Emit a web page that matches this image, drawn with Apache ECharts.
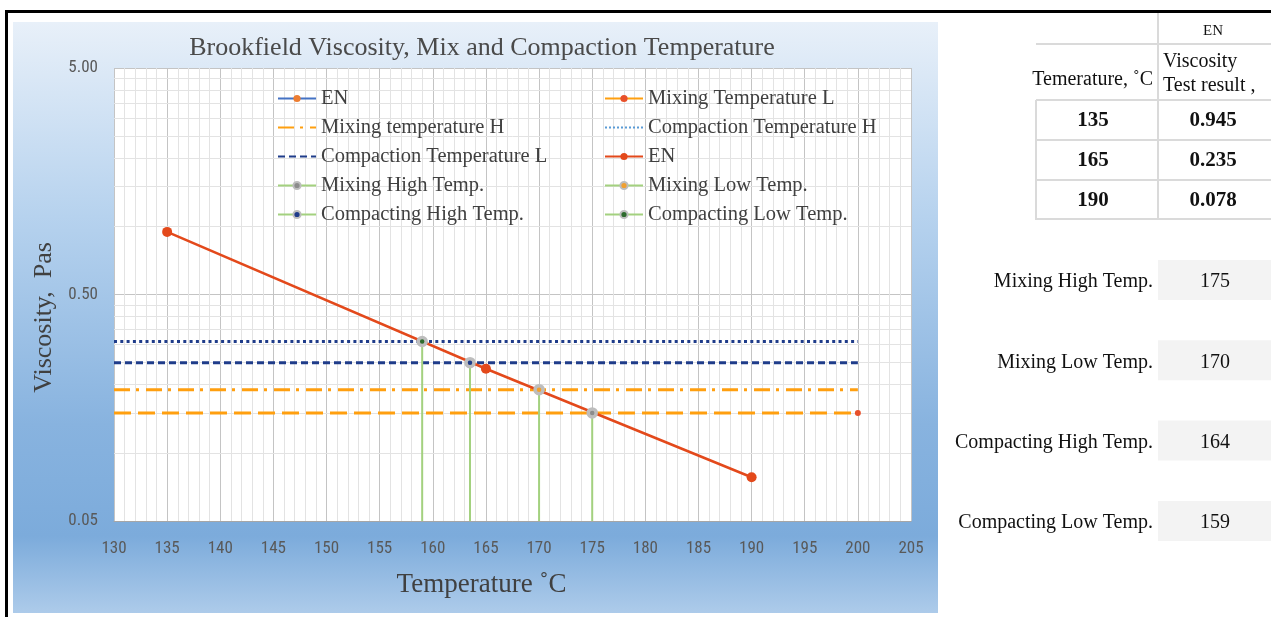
<!DOCTYPE html>
<html>
<head>
<meta charset="utf-8">
<script src="https://cdn.jsdelivr.net/npm/echarts@6/dist/echarts.min.js"></script>
<style>
html,body{margin:0;padding:0;background:#fff;}
#chart{width:1271px;height:617px;}
</style>
</head>
<body>
<div id="chart"></div>
<script>
// ---------------- data ----------------
const chartTitle = 'Brookfield Viscosity, Mix and Compaction Temperature';
const xAxisTitle = 'Temperature ˚C';
const yAxisTitle = 'Viscosity,  Pas';

const enTemps = [135, 165, 190];
const enVisc = [0.945, 0.235, 0.078];
const enViscText = ['0.945', '0.235', '0.078'];

const limitNames = ['Mixing Temperature L', 'Mixing temperature H', 'Compaction Temperature H', 'Compaction Temperature L'];
const limitVisc = [0.15, 0.19, 0.31, 0.25];
const limitTempRange = [130, 200];

const targetNames = ['Mixing High Temp.', 'Mixing Low Temp.', 'Compacting High Temp.', 'Compacting Low Temp.'];
const targetTemps = [175, 170, 163.5, 159];
const targetVisc = [0.15, 0.19, 0.25, 0.31];
const targetTableValues = ['175', '170', '164', '159'];

const xMin = 130, xMax = 205, xStep = 5;
const yMin = 0.05, yMax = 5;
const yMinorGrid = [0.1, 0.15, 0.2, 0.25, 0.3, 0.35, 0.4, 0.45, 1, 1.5, 2, 2.5, 3, 3.5, 4, 4.5];

const tableHeader = ['EN', 'Temerature, ˚C', 'Viscosity', 'Test result ,'];

// ---------------- styles ----------------
const serif = '"Liberation Serif", "Times New Roman", serif';
const narrow = '"Liberation Sans Narrow", "Roboto Condensed", "Liberation Sans", sans-serif';
const limitStyles = [
  {color: '#ff9f0f', type: [17, 7], width: 3, marker: '#e8502a'},
  {color: '#ff9f0f', type: [16, 6, 3, 7], width: 3},
  {color: '#1f3c8a', type: [3, 3.3], width: 3, legendColor: '#5b9bd5', legendType: [2, 2]},
  {color: '#1f3c8a', type: [7, 4], width: 3}
];
const targetDots = ['#8c8c8c', '#f0a030', '#1f3c8a', '#2e6b2e'];
const green = '#a3d17f';
const red = '#e3491b';

const series = [];
series.push({
  name: 'EN', type: 'line', data: [], symbol: 'circle', symbolSize: 6,
  lineStyle: {color: '#4472c4', width: 2.5}, itemStyle: {color: '#ed7d31'}
});
limitNames.forEach((n, i) => {
  const s = limitStyles[i];
  series.push({
    name: n, type: 'line',
    symbol: s.marker ? 'circle' : 'none', symbolSize: 6,
    itemStyle: {color: s.marker || s.color},
    lineStyle: {color: s.color, type: s.type, width: s.width},
    data: limitTempRange.map((t, k) => ({value: [t, limitVisc[i]], symbol: (s.marker && k === limitTempRange.length - 1) ? 'circle' : 'none'})),
    z: 3
  });
});
series.push({
  name: 'EN ', type: 'line', symbol: 'circle', symbolSize: 10,
  lineStyle: {color: red, width: 2.5}, itemStyle: {color: red},
  data: enTemps.map((t, i) => [t, enVisc[i]]), z: 4
});
targetNames.forEach((n, i) => {
  series.push({
    name: n, type: 'line', symbol: 'circle', symbolSize: 8,
    lineStyle: {color: green, width: 2},
    itemStyle: {color: targetDots[i], borderColor: '#bdbdbd', borderWidth: 3.5},
    data: [{value: [targetTemps[i], yMin], symbol: 'none'}, [targetTemps[i], targetVisc[i]]],
    z: 5
  });
});
// minor horizontal gridlines (log axis, linear steps within each decade)
series.push({
  type: 'line', data: [], z: 1, silent: true,
  markLine: {
    z: 1, silent: true, symbol: 'none', label: {show: false}, animation: false,
    lineStyle: {color: '#e3e3e3', type: 'solid', width: 1},
    data: yMinorGrid.map(v => ({yAxis: v}))
  }
});

const legendCommon = {
  orient: 'vertical', itemWidth: 38, itemHeight: 9, itemGap: 8, top: 88, padding: 0,
  textStyle: {fontFamily: serif, fontSize: 20.5, color: '#404040', lineHeight: 20},
  formatter: n => n.trim(), selectedMode: false
};
const hiddenDot = {color: 'rgba(0,0,0,0)', borderColor: 'rgba(0,0,0,0)', borderWidth: 0, opacity: 0};
const legendItem = (name) => {
  const i = limitNames.indexOf(name);
  if (i < 0) return {name};
  const s = limitStyles[i];
  if (s.marker) return {name, lineStyle: {color: s.color, type: 'solid'}};
  const item = {name, itemStyle: hiddenDot};
  if (s.legendColor) item.lineStyle = {color: s.legendColor, type: s.legendType};
  return item;
};

// ---------------- panel & table graphics ----------------
const g = [];
g.push({type: 'rect', z: -10, shape: {x: 13, y: 22, width: 925, height: 591},
  style: {fill: {type: 'linear', x: 0, y: 0, x2: 0, y2: 1, colorStops: [
    {offset: 0, color: '#e8f0f9'}, {offset: 0.33, color: '#b6d2ee'},
    {offset: 0.68, color: '#88b3df'}, {offset: 0.87, color: '#7cabdb'}, {offset: 1, color: '#adcbea'}]}}});
g.push({type: 'rect', z: 10, shape: {x: 5, y: 10, width: 1266, height: 3}, style: {fill: '#000'}});
g.push({type: 'rect', z: 10, shape: {x: 5, y: 10, width: 3, height: 607}, style: {fill: '#000'}});
const lineC = '#dadada';
const hline = (x1, x2, y) => ({type: 'line', shape: {x1, y1: y, x2, y2: y}, style: {stroke: lineC, lineWidth: 2}});
const vline = (x, y1, y2) => ({type: 'line', shape: {x1: x, y1, x2: x, y2}, style: {stroke: lineC, lineWidth: 2}});
const txt = (text, x, y, align, size, bold) => ({type: 'text', style: {text, x, y, align, verticalAlign: 'middle',
  fontFamily: serif, fontSize: size, fontWeight: bold ? 'bold' : 'normal', fill: '#111'}});
g.push(vline(1158, 13, 220));
g.push(hline(1036, 1271, 44));
g.push(hline(1036, 1271, 100));
g.push(hline(1036, 1271, 140));
g.push(hline(1036, 1271, 180));
g.push(hline(1036, 1271, 219));
g.push(vline(1036, 100, 220));
g.push(txt(tableHeader[0], 1213, 31, 'center', 15));
g.push(txt(tableHeader[1], 1153, 80, 'right', 20));
g.push(txt(tableHeader[2], 1163, 62, 'left', 20));
g.push(txt(tableHeader[3], 1163, 86, 'left', 20));
enTemps.forEach((t, i) => {
  g.push(txt(String(t), 1093, 121 + i * 40, 'center', 21, true));
  g.push(txt(enViscText[i], 1213, 121 + i * 40, 'center', 21, true));
});
targetNames.forEach((n, i) => {
  const y = 280 + i * 80.3;
  g.push({type: 'rect', shape: {x: 1158, y: y - 20, width: 113, height: 40}, style: {fill: '#f3f3f3'}});
  g.push(txt(n, 1153, y + 2, 'right', 20));
  g.push(txt(targetTableValues[i], 1215, y + 2, 'center', 20));
});

const option = {
  animation: false,
  backgroundColor: '#ffffff',
  title: {text: chartTitle, left: 477, top: 30, textAlign: 'center',
    textStyle: {fontFamily: serif, fontSize: 26, fontWeight: 'normal', color: '#4a4a4a'}},
  grid: {left: 114, top: 68, right: 360, bottom: 96, show: true, backgroundColor: '#ffffff', borderWidth: 0},
  legend: [
    Object.assign({left: 277, data: ['EN', 'Mixing temperature H', 'Compaction Temperature L', 'Mixing High Temp.', 'Compacting High Temp.'].map(legendItem)}, legendCommon),
    Object.assign({left: 604, data: ['Mixing Temperature L', 'Compaction Temperature H', 'EN ', 'Mixing Low Temp.', 'Compacting Low Temp.'].map(legendItem)}, legendCommon)
  ],
  xAxis: {
    type: 'value', min: xMin, max: xMax, interval: xStep,
    name: xAxisTitle, nameLocation: 'middle', nameGap: 50,
    nameTextStyle: {fontFamily: serif, fontSize: 27, color: '#404040', padding: [0, 62, 0, 0]},
    axisLine: {show: true, lineStyle: {color: '#a6a6a6', width: 1}},
    axisTick: {show: false},
    axisLabel: {margin: 19, fontFamily: narrow, fontSize: 17, color: '#595959'},
    splitLine: {show: true, lineStyle: {color: '#c4c4c4', width: 1}},
    minorTick: {show: false, splitNumber: 5},
    minorSplitLine: {show: true, lineStyle: {color: '#e3e3e3', width: 1}}
  },
  yAxis: {
    type: 'log', logBase: 10, min: yMin, max: yMax, interval: 1,
    name: yAxisTitle, nameLocation: 'middle', nameGap: 56,
    nameTextStyle: {fontFamily: serif, fontSize: 26, color: '#404040', padding: [0, 46, 0, 0]},
    axisLine: {show: false}, axisTick: {show: false},
    axisLabel: {margin: 16, fontFamily: narrow, fontSize: 17, color: '#595959', formatter: v => Number(v).toFixed(2)},
    splitLine: {show: true, lineStyle: {color: '#c4c4c4', width: 1}},
    minorSplitLine: {show: false}
  },
  graphic: g,
  series
};
const chart = echarts.init(document.getElementById('chart'));
chart.setOption(option);
</script>
</body>
</html>
